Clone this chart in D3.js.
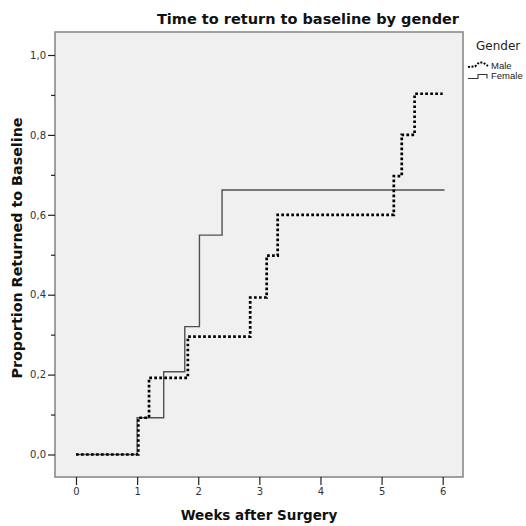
<!DOCTYPE html>
<html>
<head>
<meta charset="utf-8">
<script src="https://cdn.jsdelivr.net/npm/d3@7"></script>
<style>
  body { margin: 0; background: #fff; }
  text { font-family: "DejaVu Sans", sans-serif; }
</style>
</head>
<body>
<div id="chart"></div>
<script>
// data: step points (week, proportion)
var maleWeeks = [0, 1.02, 1.195, 1.83, 2.85, 3.12, 3.30, 5.20, 5.33, 5.54, 6.0]
var maleProp = [0, 0.092, 0.192, 0.295, 0.393, 0.498, 0.600, 0.697, 0.800, 0.903, 0.903]
var femaleWeeks = [0, 1.0, 1.435, 1.78, 2.02, 2.39, 6.03]
var femaleProp = [0, 0.092, 0.207, 0.320, 0.549, 0.662, 0.662]
var xTicks = [0, 1, 2, 3, 4, 5, 6]
var yTicks = [0, 0.2, 0.4, 0.6, 0.8, 1.0]
var yMinor = [0.1, 0.3, 0.5, 0.7, 0.9]
var groups = ["Male", "Female"]

var W = 526, H = 526
var frame = {left: 55, right: 463, top: 32, bottom: 477}

var svg = d3.select("#chart").append("svg")
    .attr("width", W).attr("height", H)

var x = d3.scaleLinear().domain([0, 6]).range([76, 442.7])
var y = d3.scaleLinear().domain([0, 1]).range([454.5, 55])

// plot background + frame
svg.append("rect")
    .attr("x", frame.left).attr("y", frame.top)
    .attr("width", frame.right - frame.left)
    .attr("height", frame.bottom - frame.top)
    .style("fill", "#f0f0f0")
    .style("stroke", "#8a8a8a")
    .style("stroke-width", 1.6)

// axes
var fmt = function(d){ return d3.format(".1f")(d).replace(".", ",") }

var gx = svg.append("g")
    .attr("transform", "translate(0," + frame.bottom + ")")
    .call(d3.axisBottom(x).tickValues(xTicks).tickSize(8).tickSizeOuter(0).tickPadding(3).tickFormat(d3.format("d")))
gx.select(".domain").remove()

var gy = svg.append("g")
    .attr("transform", "translate(" + frame.left + ",0)")
    .call(d3.axisLeft(y).tickValues(yTicks).tickSize(7).tickPadding(2).tickFormat(fmt))
gy.select(".domain").remove()

var gyMinor = svg.append("g")
    .attr("transform", "translate(" + frame.left + ",0)")
    .call(d3.axisLeft(y).tickValues(yMinor).tickSize(4).tickFormat(""))
gyMinor.select(".domain").remove()

svg.selectAll(".tick line").attr("stroke", "#222").attr("stroke-width", 1.2)
svg.selectAll(".tick text")
    .style("font-family", "DejaVu Sans, sans-serif")
    .style("font-size", "10px")
    .attr("fill", "#333")

// step lines
var line = d3.line()
    .x(function(d){ return x(d[0]) })
    .y(function(d){ return y(d[1]) })
    .curve(d3.curveStepAfter)

var femaleData = d3.zip(femaleWeeks, femaleProp)
var maleData = d3.zip(maleWeeks, maleProp)

svg.append("path")
    .datum(femaleData)
    .attr("fill", "none")
    .attr("stroke", "#505050")
    .attr("stroke-width", 1.4)
    .attr("d", line)

svg.append("path")
    .datum(maleData)
    .attr("fill", "none")
    .attr("stroke", "#000")
    .attr("stroke-width", 2.7)
    .attr("stroke-dasharray", "2.7,2.3")
    .attr("d", line)

// title and labels
svg.append("text")
    .attr("x", 308).attr("y", 24)
    .attr("text-anchor", "middle")
    .style("font-size", "14.5px").style("font-weight", "bold")
    .attr("fill", "#111")
    .text("Time to return to baseline by gender")

svg.append("text")
    .attr("x", 259).attr("y", 520)
    .attr("text-anchor", "middle")
    .style("font-size", "13.5px").style("font-weight", "bold")
    .attr("fill", "#111")
    .text("Weeks after Surgery")

svg.append("text")
    .attr("transform", "translate(22,248) rotate(-90)")
    .attr("text-anchor", "middle")
    .style("font-size", "14.3px").style("font-weight", "bold")
    .attr("fill", "#111")
    .text("Proportion Returned to Baseline")

// legend
svg.append("text")
    .attr("x", 476).attr("y", 50)
    .style("font-size", "12px")
    .attr("fill", "#222")
    .text("Gender")

var leg = svg.selectAll(".leg")
    .data(groups).enter().append("g")
    .attr("class", "leg")
    .attr("transform", function(d, i){ return "translate(468," + (65 + i * 10.5) + ")" })

leg.append("path")
    .attr("fill", "none")
    .attr("stroke", function(d){ return d == "Male" ? "#000" : "#333" })
    .attr("stroke-width", function(d){ return d == "Male" ? 2 : 1.1 })
    .attr("stroke-dasharray", function(d){ return d == "Male" ? "2,1.5" : null })
    .attr("d", function(d){
        return d == "Male" ? "M0,2 L7,1.5 L11,-2.5 L15,-2.5 L20,1" : "M0,3 L10,3 L10,-1 L19,-1 L19,3"
    })

leg.append("text")
    .attr("x", 23).attr("y", 3.5)
    .style("font-family", "Liberation Sans, sans-serif")
    .style("font-size", "9.5px")
    .attr("fill", "#222")
    .text(function(d){ return d })
</script>
</body>
</html>
